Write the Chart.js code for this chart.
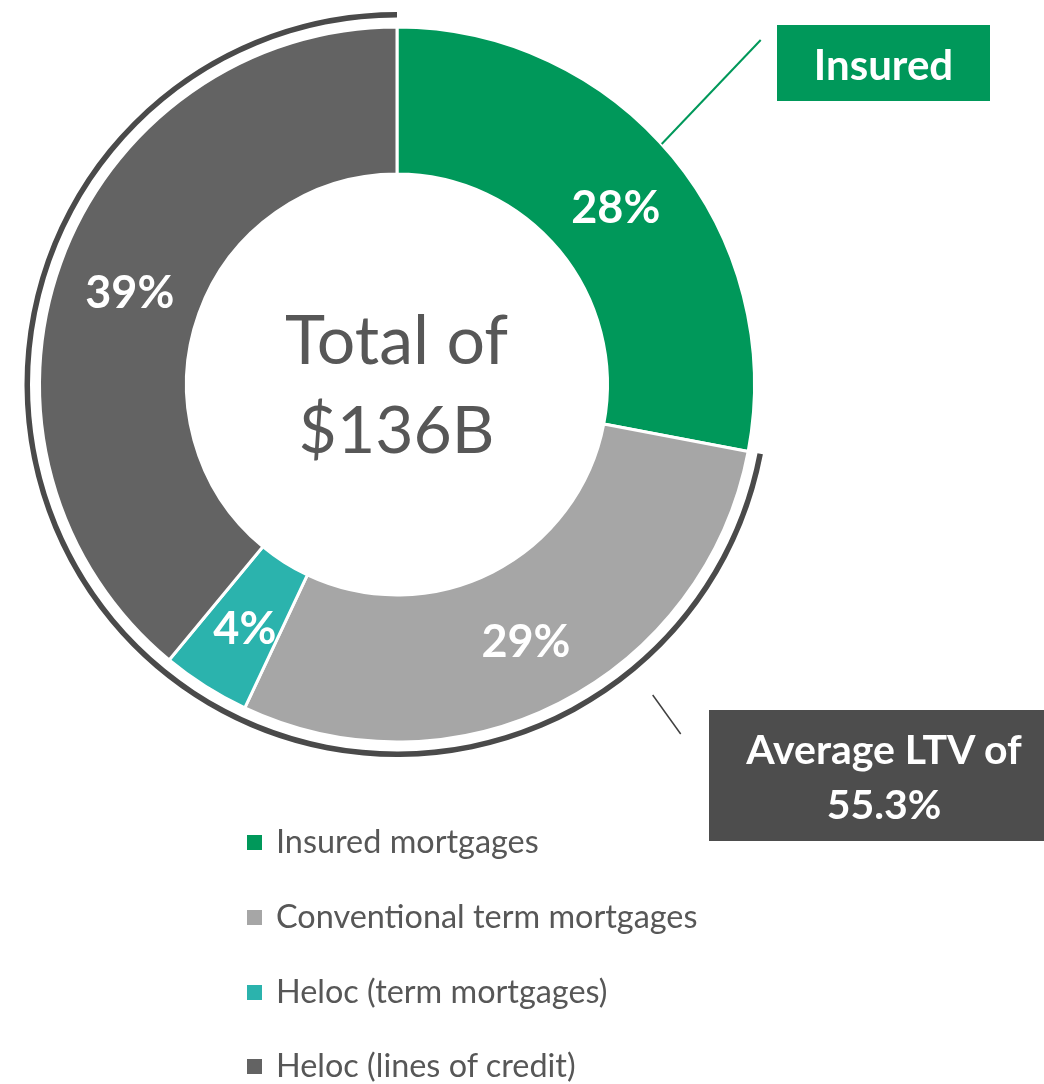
<!DOCTYPE html>
<html>
<head>
<meta charset="utf-8">
<script src="https://cdn.jsdelivr.net/npm/chart.js@4.4.1/dist/chart.umd.min.js"></script>
<style>
  html, body { margin: 0; padding: 0; background: #ffffff; }
  #wrap { position: relative; width: 1044px; height: 1084px; overflow: hidden; font-family: Lato, "Open Sans", sans-serif; }
  #cv { position: absolute; left: 0; top: 0; }
  .t { position: absolute; white-space: nowrap; }
  svg { position: absolute; left: 0; top: 0; }
</style>
</head>
<body>
<div id="wrap">
  <canvas id="cv" width="1044" height="1084"></canvas>
  <svg width="1044" height="1084" id="lines"></svg>
</div>
<script>
// ---- data ----
const categories = ['Insured mortgages', 'Conventional term mortgages', 'Heloc (term mortgages)', 'Heloc (lines of credit)'];
const shares = [28, 29, 4, 39];
const colors = ['#00985A', '#A6A6A6', '#2BB3AD', '#636363'];
const pctLabels = ['28%', '29%', '4%', '39%'];
const centerLines = ['Total of', '$136B'];
const insuredLabel = 'Insured';
const ltvLines = ['Average LTV of', '55.3%'];

const uninsuredShare = shares.slice(1).reduce((a, b) => a + b, 0);
const FONT = 'Lato, "Open Sans", sans-serif';
const wrap = document.getElementById('wrap');
const mctx = document.createElement('canvas').getContext('2d');

function place(text, font, color, x, baseline, align) {
  mctx.font = font;
  const m = mctx.measureText('Hg');
  const a = m.fontBoundingBoxAscent, d = m.fontBoundingBoxDescent;
  const el = document.createElement('div');
  el.className = 't';
  el.textContent = text;
  el.style.font = font;
  el.style.color = color;
  el.style.lineHeight = (a + d) + 'px';
  el.style.top = (baseline - a) + 'px';
  el.style.left = x + 'px';
  if (align === 'center') el.style.transform = 'translateX(-50%)';
  wrap.appendChild(el);
  return el;
}
function box(left, top, w, h, bg) {
  const el = document.createElement('div');
  el.style.cssText = `position:absolute;left:${left}px;top:${top}px;width:${w}px;height:${h}px;background:${bg};`;
  wrap.appendChild(el);
}
function line(x1, y1, x2, y2, color, w) {
  const l = document.createElementNS('http://www.w3.org/2000/svg', 'line');
  l.setAttribute('x1', x1); l.setAttribute('y1', y1);
  l.setAttribute('x2', x2); l.setAttribute('y2', y2);
  l.setAttribute('stroke', color); l.setAttribute('stroke-width', w);
  document.getElementById('lines').appendChild(l);
}

// percentage labels positioned from the arcs
const labelPlugin = {
  id: 'pctLabels',
  afterDatasetsDraw(chart) {
    const meta = chart.getDatasetMeta(2);
    const font = `bold 45px ${FONT}`;
    mctx.font = font;
    const cap = mctx.measureText('8').actualBoundingBoxAscent;
    meta.data.forEach((arc, i) => {
      const p = arc.getCenterPoint();
      let el = document.getElementById('lbl' + i);
      if (!el) {
        el = place(pctLabels[i], font, '#ffffff', p.x, p.y + cap / 2 + 3, 'center');
        el.id = 'lbl' + i;
      }
    });
  }
};

new Chart(document.getElementById('cv'), {
  type: 'doughnut',
  data: {
    labels: categories,
    datasets: [
      { data: [shares[0], uninsuredShare], backgroundColor: ['rgba(0,0,0,0)', '#4A4A4A'], borderWidth: 0, hoverBorderWidth: 0, weight: 5.5 },
      { data: [1], backgroundColor: ['rgba(0,0,0,0)'], borderWidth: 0, hoverBorderWidth: 0, weight: 9.5 },
      { data: shares, backgroundColor: colors, borderColor: '#ffffff', borderWidth: 3, hoverBorderWidth: 3, weight: 147 }
    ]
  },
  options: {
    responsive: false,
    animation: false,
    events: [],
    radius: 372.5,
    cutout: '56.51%',
    layout: { padding: { left: 0, top: 0, right: 250, bottom: 315 } },
    plugins: { legend: { display: false }, tooltip: { enabled: false } }
  },
  plugins: [labelPlugin]
});

// centre text
place(centerLines[0], `68px ${FONT}`, '#575757', 396.5, 364, 'center');
place(centerLines[1], `66px ${FONT}`, '#575757', 396.5, 453, 'center');

// callouts
line(661.7, 144, 760.7, 40, '#00985A', 2);
box(777, 25, 213, 76, '#00985A');
place(insuredLabel, `bold 42px ${FONT}`, '#ffffff', 883.5, 79.5, 'center');

line(652.7, 695, 680.7, 734, '#404040', 1.5);
box(709, 710, 350, 131, '#4D4D4D');
place(ltvLines[0], `bold 41px ${FONT}`, '#ffffff', 884, 763.5, 'center');
place(ltvLines[1], `bold 41px ${FONT}`, '#ffffff', 884, 818.5, 'center');

// legend
const legendBaselines = [853, 928, 1003, 1077];
categories.forEach((c, i) => {
  box(247, legendBaselines[i] - 18, 15, 15, colors[i]);
  place(c, `32.4px ${FONT}`, '#575757', 276, legendBaselines[i], 'left');
});
</script>
</body>
</html>
